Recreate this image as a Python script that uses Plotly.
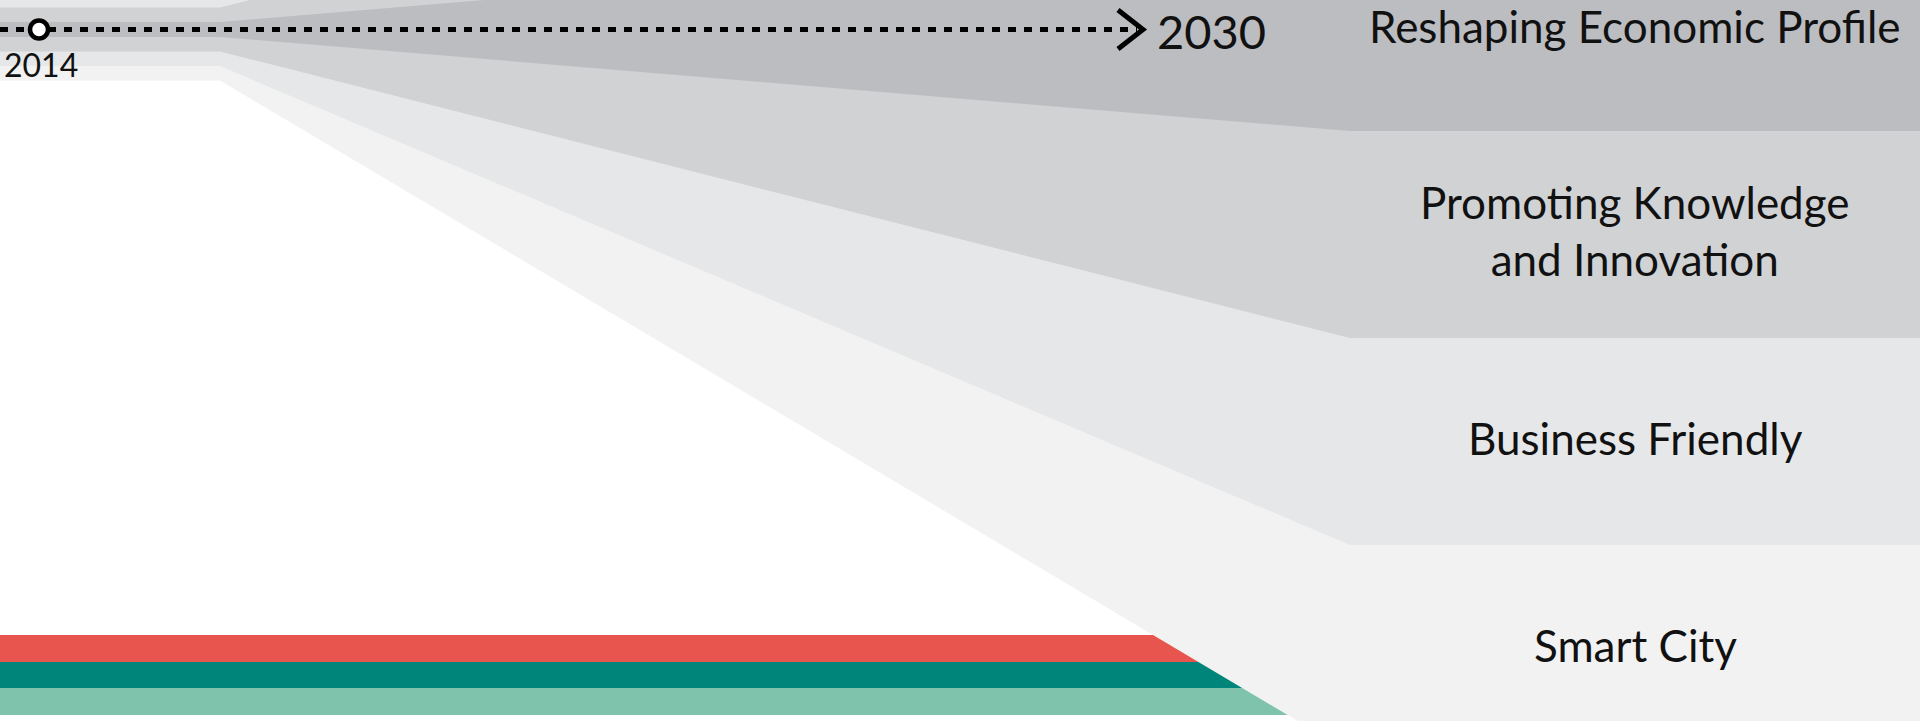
import plotly.graph_objects as go

# ---- data ----
categories = ["Reshaping Economic Profile", "Promoting Knowledge<br>and Innovation",
              "Business Friendly", "Smart City"]
band_colors = ["#bcbdc0", "#d1d2d4", "#e6e7e8", "#f2f2f2"]
start_half_width = [7.5, 22.0, 36.5, 51.0]      # half thickness of each band at the 2014 side
end_half_width = [101.5, 308.5, 515.5, 722.5]   # half thickness of each band at the 2030 side

timeline_years = ["2014", "2030"]
timeline_x = [0, 1137]
year_2014_x = 39

stripe_names = ["red", "teal", "light teal"]
stripe_colors = ["#e8554e", "#00857a", "#80c3ad"]
stripe_top = [635, 662, 688]
stripe_bottom = [662, 688, 715]

# ---- layout constants ----
W, H = 1920, 721
center_y = 29.5
x_split = 220
x_corner = 1350
label_x = 1635
FONT = "Lato"

fig = go.Figure()

# colour stripes (drawn first, covered by the lightest band on the right)
for name, col, t, b in zip(stripe_names, stripe_colors, stripe_top, stripe_bottom):
    fig.add_trace(go.Scatter(
        x=[0, x_corner, x_corner, 0, 0], y=[t, t, b, b, t],
        fill="toself", fillcolor=col, line=dict(width=0, color=col),
        mode="lines", hoverinfo="skip", showlegend=False, name=name))

# bands, lightest (widest) first
for i in reversed(range(len(categories))):
    s = start_half_width[i]
    e = end_half_width[i]
    xs = [0, x_split, x_corner, W, W, x_corner, x_split, 0, 0]
    ys = [center_y - s, center_y - s, center_y - e, center_y - e,
          center_y + e, center_y + e, center_y + s, center_y + s, center_y - s]
    fig.add_trace(go.Scatter(
        x=xs, y=ys, fill="toself", fillcolor=band_colors[i],
        line=dict(width=0, color=band_colors[i]), mode="lines",
        hoverinfo="skip", showlegend=False, name=categories[i]))

# dotted timeline
fig.add_trace(go.Scatter(
    x=timeline_x, y=[center_y, center_y], mode="lines",
    line=dict(color="black", width=5, dash="8px,8px"),
    hoverinfo="skip", showlegend=False))

# arrow head
fig.add_trace(go.Scatter(
    x=[timeline_x[1] - 19, timeline_x[1] + 6, timeline_x[1] - 19],
    y=[center_y - 19.5, center_y, center_y + 19.5], mode="lines",
    line=dict(color="black", width=5), hoverinfo="skip", showlegend=False))

# start marker
fig.add_trace(go.Scatter(
    x=[year_2014_x], y=[center_y], mode="markers",
    marker=dict(size=18, color="white", line=dict(color="black", width=4.5)),
    hoverinfo="skip", showlegend=False))

annotations = []
# category labels centered in the right-hand bands
for i, cat in enumerate(categories):
    if i == 0:
        yc = center_y
    else:
        yc = center_y + (end_half_width[i - 1] + end_half_width[i]) / 2
    annotations.append(dict(x=label_x, y=yc, text=cat, showarrow=False,
                            xref="x", yref="y", xanchor="center", yanchor="middle",
                            yshift=4,
                            font=dict(family=FONT, size=44, color="#111111")))

annotations.append(dict(x=year_2014_x + 2, y=64, text=timeline_years[0], showarrow=False,
                        xref="x", yref="y", xanchor="center", yanchor="middle",
                        font=dict(family=FONT, size=32, color="#111111")))
annotations.append(dict(x=timeline_x[1] + 18, y=center_y + 1, text=timeline_years[1], showarrow=False,
                        xref="x", yref="y", xanchor="left", yanchor="middle",
                        font=dict(family=FONT, size=47, color="#111111")))

fig.update_layout(
    width=W, height=H,
    margin=dict(l=0, r=0, t=0, b=0),
    paper_bgcolor="white", plot_bgcolor="white",
    xaxis=dict(range=[0, W], visible=False, fixedrange=True),
    yaxis=dict(range=[H, 0], visible=False, fixedrange=True),
    annotations=annotations,
    showlegend=False,
)

fig.write_html("out.html", config={"displayModeBar": False},
               post_script="document.body.style.margin='0';document.body.style.overflow='hidden';")
